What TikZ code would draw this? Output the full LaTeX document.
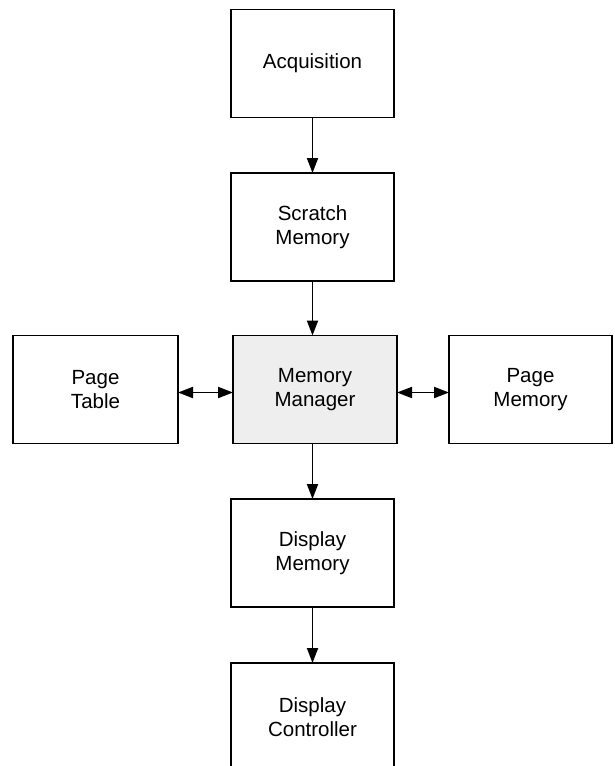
\documentclass[tikz,border=0pt]{standalone}
\usepackage{fontspec}
\setmainfont{Liberation Sans}
\usetikzlibrary{arrows.meta}
\definecolor{mgrfill}{HTML}{EEEEEE}
\begin{document}
\begin{tikzpicture}[x=1pt,y=-1pt,
  blockbox/.style={draw=black, line width=1.9pt, rectangle, inner sep=0pt, outer sep=0pt,
    minimum width=163pt, minimum height=108pt, align=center,
    font=\fontsize{20.5}{23.5}\selectfont},
  flow/.style={line width=1.9pt, -{Triangle[length=15pt,width=11pt]}},
  biflow/.style={line width=1.9pt, {Triangle[length=15pt,width=11pt]}-{Triangle[length=15pt,width=11pt]}}
]
\useasboundingbox (0,0) rectangle (615,766);
\clip (0,0) rectangle (615,766);
\node[blockbox] (acq) at (312.5,63.5) {Acquisition};
\node[blockbox] (scr) at (312.5,227) {Scratch\\Memory};
\node[blockbox, fill=mgrfill, minimum width=164pt] (mgr) at (315,389.5) {Memory\\Manager};
\node[blockbox, minimum width=165pt] (pt) at (95.5,389.5) {Page\\Table};
\node[blockbox] (pm) at (530.5,389.5) {Page\\Memory};
\node[blockbox] (dm) at (312.5,553) {Display\\Memory};
\node[blockbox] (dc) at (312.5,717) {Display\\Controller};
\draw[flow] (acq.south) -- (scr.north);
\draw[flow] (scr.south) -- (scr.south |- mgr.north);
\draw[flow] (dm.north |- mgr.south) -- (dm.north);
\draw[flow] (dm.south) -- (dc.north);
\draw[biflow] ([yshift=-3pt]pt.east) -- ([yshift=-3pt]mgr.west);
\draw[biflow] ([yshift=-3pt]mgr.east) -- ([yshift=-3pt]pm.west);
\end{tikzpicture}
\end{document}
